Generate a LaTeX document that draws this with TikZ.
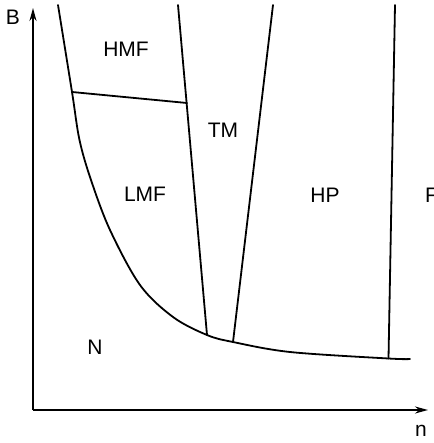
\documentclass[tikz,border=0pt]{standalone}
\usepackage{fontspec}
\setmainfont{Liberation Sans}
\usetikzlibrary{arrows.meta}
\begin{document}
\begin{tikzpicture}[x=1pt,y=-1pt,
  ln/.style={line width=1.8pt,line cap=round,line join=round},
  ax/.style={line width=1.8pt,-{Stealth[length=13pt,width=7pt]}},
  lbl/.style={font=\fontsize{21}{23}\selectfont,inner sep=0pt}]
\useasboundingbox (0,0) rectangle (433,443);
% axes
\coordinate (O) at (33,410);
\coordinate (Btip) at (33,8);
\coordinate (ntip) at (428,410);
\draw[ax] (O) -- (Btip);
\draw[ax] (O) -- (ntip);
\node[lbl] (Blab) at (13,17) {B};
\node[lbl] (nlab) at (421,431) {n};
% junctions
\coordinate (j1) at (72,92);
\coordinate (j2) at (187,103);
\coordinate (j3) at (207,335);
\coordinate (j4) at (233,342);
\coordinate (j5) at (388.5,358.5);
\coordinate (t1) at (178,5);
\coordinate (t2) at (273,5);
\coordinate (t3) at (395,5);
% boundary curve
\draw[ln] plot[smooth,tension=0.55] coordinates {(58,5) (72,92) (79.5,140) (91,180) (110,230) (140,285) (173,317) (207,335) (233,342) (290,352) (388.5,358.5) (410,359)};
% lines
\draw[ln] (j1) -- (j2);
\draw[ln] (t1) -- (j3);
\draw[ln] (t2) -- (j4);
\draw[ln] (t3) -- (j5);
% labels
\node[lbl] (hmf) at (126,49) {HMF};
\node[lbl] (tm) at (223,130) {TM};
\node[lbl] (lmf) at (145,194) {LMF};
\node[lbl] (hp) at (325,195) {HP};
\node[lbl,anchor=west] (f) at (425,195) {F};
\node[lbl] (N) at (95,347) {N};
\end{tikzpicture}
\end{document}
